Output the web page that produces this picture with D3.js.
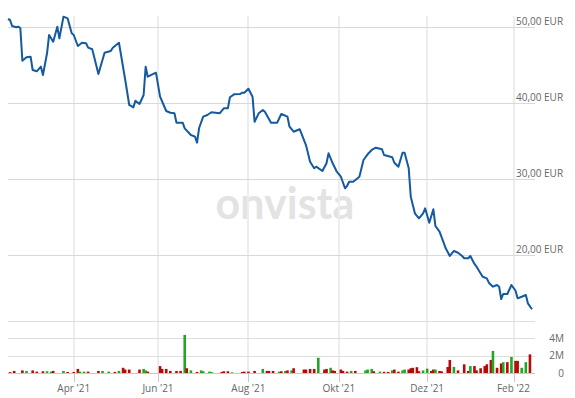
<!DOCTYPE html>
<html>
<head>
<meta charset="utf-8">
<script src="https://cdn.jsdelivr.net/npm/d3@7"></script>
<style>
  body { margin: 0; background: #fff; }
  svg { display: block; font-family: "Open Sans", sans-serif; }
</style>
</head>
<body>
<svg id="chart" width="575" height="398"></svg>
<script>
// Schlusskurs (EUR), x = Handelstag seit Start
var priceDays = [0,1,2,4,5,6,7,9,11,12,14,16,17,19,20,22,24,25,27,29,31,32,34,36,38,39,41,44,47,50,51,54,57,59,61,62,64,66,67,68,72,74,77,79,81,82,85,86,89,91,92,93,95,97,99,103,105,107,108,110,113,114,115,117,119,120,122,124,125,128,131,133,136,137,139,141,142,145,147,149,150,153,155,156,158,160,162,164,165,166,168,171,173,175,177,179,182,183,187,188,190,192,193,195,196,198,200,202,203,205,207,208,210,212,213,215,217,219,221,222,224,225,227,228,231,233,234,236,238,239,240,241,243,245,247,248,250,252,253,255];
var priceValues = [51.05,50.92,50.13,49.96,50.04,49.87,45.57,46.01,46.09,44.34,44.17,44.78,43.68,46.54,48.95,48.07,50.04,48.51,51.36,51.14,49.17,48.95,47.5,47.93,47.86,47.28,47.07,43.82,46.62,46.84,47.28,47.93,43.12,39.74,39.43,40.3,39.87,41.05,44.78,43.46,43.99,40.83,38.95,38.72,38.64,37.41,37.41,36.67,35.79,35.57,34.78,36.71,38.2,38.42,38.78,38.64,39.3,39.3,40.75,41.14,41.18,41.36,41.36,41.88,40.83,37.54,38.64,39.08,38.86,37.41,37.41,38.55,38.2,36.88,36.22,36.45,36.54,34.47,32.28,31.41,31.62,31.05,32.07,33.38,32.07,30.96,30.3,28.78,29.08,29.64,29.64,30.3,32.5,33.25,33.82,34.12,33.91,33.16,32.86,32.14,31.62,33.46,33.46,31.41,27.67,25.49,24.83,25.49,26.14,24.25,26.01,23.82,23.07,21.62,20.88,19.87,20.53,20.3,19.87,19.57,19.57,19.87,18.82,18.46,17.14,16.93,16.36,15.83,16.05,15.83,14.21,14.87,14.87,16.05,15.3,14.3,14.51,14.74,13.64,12.86];

// Volumen (Mio. Stueck), g = Kurs gestiegen, r = gefallen
var volDays = [1,3,7,9,12,14,17,19,21,22,27,29,32,34,35,37,39,44,46,49,52,54,56,57,59,64,66,67,68,74,75,77,79,82,84,86,87,89,92,94,95,98,99,104,105,107,109,114,115,117,120,124,126,127,129,132,133,135,136,138,139,144,145,147,149,151,154,155,157,158,159,162,163,165,167,169,174,175,177,178,181,183,185,187,188,190,192,193,195,196,197,199,200,202,204,206,207,208,210,211,214,215,217,219,222,224,225,227,228,230,232,233,235,236,238,240,241,243,245,247,248,250,252,254];
var volValues = [0.1,0.24,0.3,0.24,0.3,0.16,0.2,0.2,0.16,0.24,0.24,0.12,0.12,0.47,0.16,0.16,0.16,0.24,0.24,0.16,0.12,0.24,0.6,0.4,0.4,0.4,0.47,0.3,0.16,0.8,0.47,0.47,0.24,0.24,0.24,4.4,0.55,0.3,0.12,0.3,0.2,0.16,0.12,0.12,0.2,0.2,0.08,0.12,0.16,0.16,0.24,0.47,0.24,0.24,0.24,0.16,0.2,0.24,0.3,0.3,0.55,0.4,0.4,0.47,0.47,1.76,0.4,0.47,0.6,0.3,0.24,0.4,0.24,0.16,0.24,0.24,0.3,0.4,0.47,0.2,0.16,0.14,0.12,0.3,0.4,0.16,0.3,0.4,0.4,0.55,0.6,0.67,0.2,0.3,0.5,0.24,0.4,0.4,0.24,0.2,0.7,1.5,0.7,0.3,1.0,0.24,0.8,0.8,0.3,0.55,0.8,1.0,1.5,2.55,0.6,1.1,1.25,1.25,1.85,1.4,1.4,0.6,1.25,2.15];
var volDir = ["r","r","r","g","r","r","r","g","g","r","g","r","r","r","g","g","r","r","g","g","r","g","r","r","r","r","g","g","r","r","r","r","r","r","r","g","r","g","r","g","g","g","g","r","r","r","g","r","r","r","r","g","r","r","r","g","r","g","r","g","r","r","r","r","r","g","r","r","g","r","r","r","r","r","g","r","g","g","g","r","g","r","r","g","r","r","g","g","r","r","r","r","r","g","g","r","r","g","r","r","r","r","g","r","r","r","g","r","r","r","r","r","r","g","r","r","g","r","g","r","r","g","g","r"];

var monthTicks = [32, 73, 117, 161, 204, 246];
var monthLabels = ["Apr '21", "Jun '21", "Aug '21", "Okt '21", "Dez '21", "Feb '22"];
var priceTicks = [20, 30, 40, 50];
var volGrid = [0, 2, 4, 6];
var volLabelTicks = [0, 2, 4];

var svg = d3.select("#chart");
var de = d3.formatLocale({decimal: ",", thousands: ".", grouping: [3], currency: ["", " €"]});
var fmtPrice = de.format(".2f");

var x = d3.scaleLinear().domain([0, 255]).range([8, 532]);
var y = d3.scaleLinear().domain([10, 50]).range([331, 27]);
var yv = d3.scaleLinear().domain([0, 6]).range([373, 321]);

var gridRight = 535;

// Wasserzeichen (liegt hinter dem Raster)
svg.append("text")
  .attr("x", 285)
  .attr("y", 219)
  .attr("text-anchor", "middle")
  .attr("font-family", "Lato, 'Open Sans', sans-serif")
  .attr("font-weight", 700)
  .attr("font-size", 43)
  .attr("fill", "#e3e3e3")
  .text("onvista");

// vertikale Raster (Monate)
svg.append("g").selectAll("line")
  .data(monthTicks)
  .join("line")
  .attr("x1", function(d) { return Math.round(x(d)); })
  .attr("x2", function(d) { return Math.round(x(d)); })
  .attr("y1", 16)
  .attr("y2", 373)
  .attr("stroke", "#ededed")
  .attr("stroke-width", 2);

// Tickstriche unter der Volumen-Basislinie
svg.append("g").selectAll("line")
  .data(monthTicks)
  .join("line")
  .attr("x1", function(d) { return Math.round(x(d)) + 0.5; })
  .attr("x2", function(d) { return Math.round(x(d)) + 0.5; })
  .attr("y1", 373)
  .attr("y2", 382)
  .attr("stroke", "#c5c9d6");

// horizontale Raster Kurs
svg.append("g").selectAll("line")
  .data(priceTicks)
  .join("line")
  .attr("x1", 8)
  .attr("x2", gridRight)
  .attr("y1", function(d) { return Math.round(y(d)) + 0.5; })
  .attr("y2", function(d) { return Math.round(y(d)) + 0.5; })
  .attr("stroke", "#d9d9d9");

// horizontale Raster Volumen
svg.append("g").selectAll("line")
  .data(volGrid)
  .join("line")
  .attr("x1", 8)
  .attr("x2", gridRight)
  .attr("y1", function(d) { return Math.round(yv(d)) + 0.5; })
  .attr("y2", function(d) { return Math.round(yv(d)) + 0.5; })
  .attr("stroke", function(d) { return d === 0 ? "#c5c9d6" : "#dedede"; });

// Kurslinie
var line = d3.line()
  .x(function(d, i) { return x(priceDays[i]); })
  .y(function(d) { return y(d); });

svg.append("path")
  .datum(priceValues)
  .attr("d", line)
  .attr("fill", "none")
  .attr("stroke", "#145aa0")
  .attr("stroke-width", 2)
  .attr("stroke-linejoin", "round");

// Volumenbalken
svg.append("g").selectAll("rect")
  .data(volValues)
  .join("rect")
  .attr("x", function(d, i) { return x(volDays[i]) - 1.3; })
  .attr("y", function(d) { return yv(d); })
  .attr("width", 2.6)
  .attr("height", function(d) { return yv(0) - yv(d); })
  .attr("fill", function(d, i) { return volDir[i] === "g" ? "#23a623" : "#b40a0a"; });

// Achsenbeschriftungen Kurs
svg.append("g").selectAll("text")
  .data(priceTicks)
  .join("text")
  .attr("x", 516)
  .attr("y", function(d) { return y(d) - 2; })
  .attr("font-size", 10)
  .attr("fill", "#666")
  .text(function(d) { return fmtPrice(d) + " EUR"; });

// Achsenbeschriftungen Volumen
svg.append("g").selectAll("text")
  .data(volLabelTicks)
  .join("text")
  .attr("x", 564)
  .attr("y", function(d) { return yv(d) + 3.5; })
  .attr("text-anchor", "end")
  .attr("font-size", 10)
  .attr("fill", "#666")
  .text(function(d) { return d === 0 ? "0" : d + "M"; });

// Monatsbeschriftungen
svg.append("g").selectAll("text")
  .data(monthTicks)
  .join("text")
  .attr("x", function(d) { return x(d); })
  .attr("y", 392)
  .attr("text-anchor", "middle")
  .attr("font-size", 10)
  .attr("fill", "#666")
  .text(function(d, i) { return monthLabels[i]; });
</script>
</body>
</html>
